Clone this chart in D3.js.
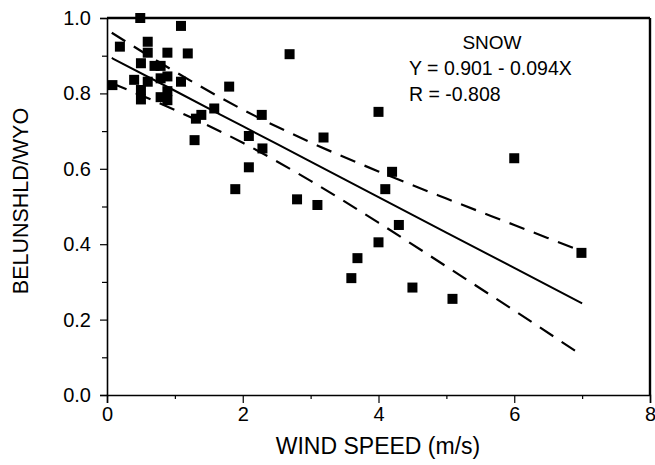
<!DOCTYPE html>
<html><head><meta charset="utf-8">
<script src="https://cdn.jsdelivr.net/npm/d3@7"></script>
<style>body{margin:0;background:#fff}svg{display:block}text{font-family:"Liberation Sans",Arial,sans-serif;fill:#000}</style>
</head><body><svg id="c" width="655" height="465"></svg>
<script>
const windSpeed = [0.49,1.09,0.19,0.6,0.6,0.89,1.19,0.5,0.7,0.79,0.4,0.6,0.79,0.89,1.09,0.08,0.5,0.5,0.79,0.89,0.89,1.8,1.58,1.31,1.39,2.28,1.29,2.09,2.29,3.19,2.09,1.89,2.8,3.1,2.69,4.0,4.2,4.1,6.0,4.3,4.0,3.69,3.6,4.5,5.09,6.99];
const ratio     = [1.0,0.979,0.924,0.937,0.908,0.908,0.906,0.88,0.873,0.873,0.836,0.831,0.84,0.845,0.831,0.822,0.809,0.784,0.79,0.782,0.806,0.818,0.76,0.733,0.743,0.743,0.676,0.687,0.654,0.683,0.604,0.546,0.519,0.504,0.904,0.751,0.592,0.546,0.628,0.451,0.405,0.363,0.31,0.285,0.255,0.377];
const fitX      = [0.07,1,2,3,4,5,6,7];
const fitY      = [0.894,0.807,0.713,0.619,0.525,0.431,0.337,0.243];
const upperY    = [0.961,0.858,0.757,0.670,0.593,0.521,0.451,0.381];
const lowerY    = [0.827,0.756,0.669,0.568,0.457,0.341,0.224,0.105];
const xTicks    = [0,2,4,6,8];
const yTicks    = [0.0,0.2,0.4,0.6,0.8,1.0];
const annotation = ["SNOW","Y = 0.901 - 0.094X","R = -0.808"];

const svg = d3.select("#c");
const L=107,R=650,T=18,B=395;
const x = d3.scaleLinear().domain([0,8]).range([L,R]);
const y = d3.scaleLinear().domain([0,1]).range([B,T]);

// minor ticks
const gx = svg.append("g").attr("transform",`translate(0,${B})`);
gx.call(d3.axisBottom(x).tickValues(d3.range(1,8,2)).tickSize(4).tickFormat(""));
gx.call(g=>g.select(".domain").remove());
const gx2 = svg.append("g").attr("transform",`translate(0,${B})`)
  .call(d3.axisBottom(x).tickValues(xTicks).tickSize(8).tickPadding(4).tickFormat(d3.format("d")));
gx2.selectAll("text").attr("font-size",20).attr("font-family","Liberation Sans, Arial");
const gy = svg.append("g").attr("transform",`translate(${L},0)`);
gy.call(d3.axisLeft(y).tickValues(d3.range(0.1,1,0.2)).tickSize(5).tickFormat(""));
gy.call(g=>g.select(".domain").remove());
const gy2 = svg.append("g").attr("transform",`translate(${L},0)`)
  .call(d3.axisLeft(y).tickValues(yTicks).tickSize(7).tickPadding(9).tickFormat(d3.format(".1f")));
gy2.selectAll("text").attr("font-size",20).attr("font-family","Liberation Sans, Arial");
svg.selectAll(".domain").attr("stroke-width",1.6);
svg.selectAll(".tick line").attr("stroke-width",1.2);

// frame top & right
svg.append("line").attr("x1",L).attr("x2",R).attr("y1",T).attr("y2",T).attr("stroke","#000").attr("stroke-width",2.4);
svg.append("line").attr("x1",R).attr("x2",R).attr("y1",T).attr("y2",B).attr("stroke","#000").attr("stroke-width",2.4);

// fit & bands
const line = d3.line().curve(d3.curveMonotoneX);
svg.append("path").attr("d",line(fitX.map((v,i)=>[x(v),y(fitY[i])]))).attr("fill","none").attr("stroke","#000").attr("stroke-width",2);
[upperY,lowerY].forEach(arr=>{
  svg.append("path").attr("d",line(fitX.map((v,i)=>[x(v),y(arr[i])]))).attr("fill","none").attr("stroke","#000").attr("stroke-width",2.2).attr("stroke-dasharray","16,10");
});

// points
const s=10;
svg.append("g").selectAll("rect").data(windSpeed).join("rect")
  .attr("x",(d)=>x(d)-s/2).attr("y",(d,i)=>y(ratio[i])-s/2).attr("width",s).attr("height",s).attr("fill","#000");

// titles
svg.append("text").attr("x",378).attr("y",454).attr("text-anchor","middle").attr("font-size",23).text("WIND SPEED (m/s)");
svg.append("text").attr("transform",`translate(28,${201}) rotate(-90)`).attr("text-anchor","middle").attr("font-size",21.5).text("BELUNSHLD/WYO");

// annotation
svg.append("text").attr("x",492).attr("y",49).attr("text-anchor","middle").attr("font-size",19).text(annotation[0]);
svg.append("text").attr("x",409).attr("y",75).attr("font-size",19.5).text(annotation[1]);
svg.append("text").attr("x",409).attr("y",101).attr("font-size",19.5).text(annotation[2]);
</script></body></html>
